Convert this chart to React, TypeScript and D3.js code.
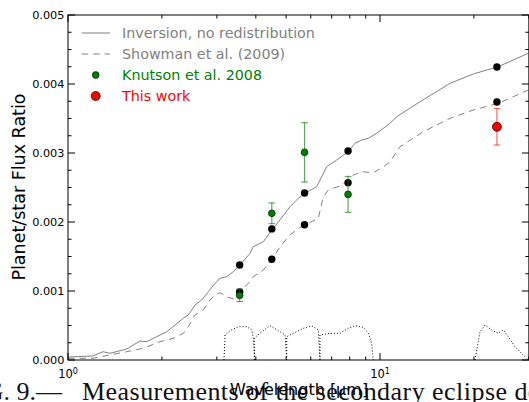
import React from 'react';
import * as d3 from 'd3';

// ---------- data (flux ratios in units of 1e-3) ----------
const solidWl = [1.00, 1.20, 1.295, 1.363, 1.542, 1.701, 1.787, 1.924, 2.072, 2.203, 2.342, 2.430, 2.554, 2.683, 2.817, 2.959, 3.071, 3.227, 3.387, 3.558, 3.831, 3.926, 4.227, 4.518, 4.780, 5.146, 5.471, 5.749, 6.267, 6.751, 7.264, 7.912, 8.317, 8.737, 9.173, 9.759, 10.77, 11.31, 13.44, 16.77, 19.91, 23.94, 29.88];
const solidFlux = [0.043, 0.058, 0.120, 0.097, 0.159, 0.275, 0.265, 0.338, 0.410, 0.507, 0.604, 0.652, 0.797, 0.870, 0.990, 1.112, 1.184, 1.207, 1.280, 1.377, 1.546, 1.642, 1.714, 1.894, 2.029, 2.222, 2.343, 2.416, 2.512, 2.801, 2.899, 3.019, 3.141, 3.188, 3.213, 3.286, 3.430, 3.526, 3.743, 4.010, 4.145, 4.251, 4.445];

const dashedWl = [1.00, 1.20, 1.542, 1.743, 1.972, 2.176, 2.342, 2.430, 2.554, 2.715, 2.852, 2.959, 3.071, 3.227, 3.387, 3.558, 3.692, 3.831, 3.926, 4.227, 4.518, 4.780, 5.146, 5.471, 5.749, 6.341, 6.581, 6.829, 7.442, 7.912, 8.214, 8.737, 9.517, 10.25, 10.77, 11.59, 13.77, 16.77, 19.91, 23.94, 29.88];
const dashedFlux = [0.025, 0.025, 0.120, 0.170, 0.265, 0.314, 0.387, 0.483, 0.652, 0.725, 0.870, 0.942, 0.975, 0.917, 0.884, 0.971, 1.062, 1.135, 1.207, 1.304, 1.459, 1.642, 1.812, 1.909, 1.957, 2.054, 2.367, 2.464, 2.522, 2.609, 2.681, 2.729, 2.714, 2.801, 2.874, 3.091, 3.309, 3.503, 3.623, 3.720, 3.913];

const bandWl = [3.55, 4.5, 5.73, 7.9, 23.7];
const bandSolid = [1.377, 1.90, 2.42, 3.03, 4.246];
const bandDashed = [0.985, 1.46, 1.96, 2.57, 3.74];

const knutsonWl = [3.55, 4.5, 5.73, 7.9];
const knutsonFlux = [0.937, 2.126, 3.01, 2.40];
const knutsonErr = [0.09, 0.15, 0.43, 0.26];

const thisWorkWl = [23.7];
const thisWorkFlux = [3.38];
const thisWorkErr = [0.265];

// filter response curves (scaled)
const filter1Wl = [3.162, 3.187, 3.306, 3.514, 3.740, 3.880, 3.926, 3.976];
const filter1Resp = [0, 0.362, 0.425, 0.483, 0.483, 0.435, 0.314, 0];
const filter2Wl = [3.955, 3.955, 4.124, 4.441, 4.780, 4.962, 5.024];
const filter2Resp = [0, 0.319, 0.387, 0.497, 0.410, 0.362, 0];
const filter3Wl = [5.024, 5.024, 5.274, 5.678, 6.040, 6.341, 6.422];
const filter3Resp = [0, 0.338, 0.387, 0.459, 0.497, 0.435, 0];
const filter4Wl = [6.422, 6.422, 6.914, 7.442, 7.912, 8.317, 8.843, 9.173, 9.406, 9.517];
const filter4Resp = [0, 0.362, 0.387, 0.387, 0.459, 0.497, 0.474, 0.387, 0.242, 0];
const filter5Wl = [20.16, 20.92, 21.71, 22.80, 23.94, 24.84, 25.77, 27.08, 28.79, 29.88];
const filter5Resp = [0, 0.411, 0.507, 0.435, 0.387, 0.435, 0.338, 0.193, 0.072, 0];

const yTicks = [0, 0.001, 0.002, 0.003, 0.004, 0.005];
const xMajorTicks = [1, 10];
const xMajorExp = ['0', '1'];
const xMinorTicks = [2, 3, 4, 5, 6, 7, 8, 9, 20, 30];

const legendLabels = ['Inversion, no redistribution', 'Showman et al. (2009)', 'Knutson et al. 2008', 'This work'];
const xLabel = 'Wavelength [\u03bcm]';
const yLabel = 'Planet/star Flux Ratio';
const captionHead = 'FIG. 9.\u2014';
const captionBody = 'Measurements of the secondary eclipse depth';

// ---------- layout ----------
const W = 529, H = 402;
const L = 68, T = 15, B = 360;
const x = d3.scaleLog().domain([1, 30]).range([L, L + 312 * Math.log10(30)]);
const y = d3.scaleLinear().domain([0, 0.005]).range([B, T]);
const R = x(30);
const font = 'DejaVu Sans, sans-serif';

const zip = (a: number[], b: number[]) => a.map((v, i) => [v, b[i] / 1000] as [number, number]);
const line = d3.line<[number, number]>().x(d => x(d[0])).y(d => y(d[1]));

export default function App() {
  const yMinor = d3.range(0, 21).map(i => i * 0.00025).filter(v => Math.abs(v * 1000 - Math.round(v * 1000)) > 1e-6);
  const filters = [
    zip(filter1Wl, filter1Resp), zip(filter2Wl, filter2Resp), zip(filter3Wl, filter3Resp),
    zip(filter4Wl, filter4Resp), zip(filter5Wl, filter5Resp),
  ];
  const gray = '#808080';
  const green = '#008000';
  return (
    <svg width={W} height={H} style={{ position: 'absolute', left: 0, top: 0, background: '#fff' }} fontFamily={font}>
      <defs>
        <clipPath id="plot"><rect x={L} y={T} width={R - L} height={B - T} /></clipPath>
      </defs>
      {/* caption from paper */}
      <g fontFamily="Liberation Serif, Times New Roman, serif" fontSize={26} fill="#111">
        <text x={62} y={400} textAnchor="end">{captionHead}</text>
        <text x={82} y={400} textLength={492} lengthAdjust="spacing">{captionBody}</text>
      </g>
      <g clipPath="url(#plot)">
        {filters.map((f, i) => (
          <path key={i} d={line(f) || ''} fill="none" stroke="#000" strokeWidth={1} strokeDasharray="1,2" />
        ))}
        <path d={line(zip(solidWl, solidFlux)) || ''} fill="none" stroke={gray} strokeWidth={1} />
        <path d={line(zip(dashedWl, dashedFlux)) || ''} fill="none" stroke={gray} strokeWidth={1} strokeDasharray="6.5,5" />
      </g>
      {/* model band points */}
      {bandWl.map((w, i) => (
        <g key={'b' + i}>
          <circle cx={x(w)} cy={y(bandSolid[i] / 1000)} r={3.7} fill="#000" />
          <circle cx={x(w)} cy={y(bandDashed[i] / 1000)} r={3.7} fill="#000" />
        </g>
      ))}
      {/* Knutson */}
      {knutsonWl.map((w, i) => {
        const cx = x(w);
        const y1 = y((knutsonFlux[i] + knutsonErr[i]) / 1000);
        const y2 = y((knutsonFlux[i] - knutsonErr[i]) / 1000);
        return (
          <g key={'k' + i}>
            <g stroke={green} strokeOpacity={0.65} strokeWidth={1.2}>
              <line x1={cx} x2={cx} y1={y1} y2={y2} />
              <line x1={cx - 3.3} x2={cx + 3.3} y1={y1} y2={y1} />
              <line x1={cx - 3.3} x2={cx + 3.3} y1={y2} y2={y2} />
            </g>
            <circle cx={cx} cy={y(knutsonFlux[i] / 1000)} r={3.4} fill={green} stroke="#000" strokeWidth={0.6} />
          </g>
        );
      })}
      {/* This work */}
      {thisWorkWl.map((w, i) => {
        const cx = x(w);
        const y1 = y((thisWorkFlux[i] + thisWorkErr[i]) / 1000);
        const y2 = y((thisWorkFlux[i] - thisWorkErr[i]) / 1000);
        return (
          <g key={'t' + i}>
            <g stroke="#ff0000" strokeOpacity={0.6} strokeWidth={1.2}>
              <line x1={cx} x2={cx} y1={y1} y2={y2} />
              <line x1={cx - 3.3} x2={cx + 3.3} y1={y1} y2={y1} />
              <line x1={cx - 3.3} x2={cx + 3.3} y1={y2} y2={y2} />
            </g>
            <circle cx={cx} cy={y(thisWorkFlux[i] / 1000)} r={4.5} fill="#ff0000" stroke="#000" strokeWidth={0.7} />
          </g>
        );
      })}
      {/* axes frame */}
      <rect x={L} y={T} width={R - L} height={B - T} fill="none" stroke="#000" strokeWidth={1} />
      {/* y ticks */}
      {yTicks.map(v => (
        <g key={'yt' + v}>
          <line x1={L} x2={L + 7} y1={y(v)} y2={y(v)} stroke="#000" />
          <line x1={R} x2={R - 7} y1={y(v)} y2={y(v)} stroke="#000" />
          <text x={L - 3.5} y={y(v)} dy="0.36em" textAnchor="end" fontSize={11.3} fill="#000">{d3.format('.3f')(v)}</text>
        </g>
      ))}
      {yMinor.map(v => (
        <g key={'ym' + v}>
          <line x1={L} x2={L + 3.5} y1={y(v)} y2={y(v)} stroke="#000" />
          <line x1={R} x2={R - 3.5} y1={y(v)} y2={y(v)} stroke="#000" />
        </g>
      ))}
      {/* x ticks */}
      {xMajorTicks.map((v, i) => (
        <g key={'xt' + v}>
          <line x1={x(v)} x2={x(v)} y1={B} y2={B - 7} stroke="#000" />
          <line x1={x(v)} x2={x(v)} y1={T} y2={T + 7} stroke="#000" />
          <text x={x(v)} y={378} textAnchor="middle" fontSize={11.5} fill="#000">
            10<tspan fontSize={8} dy={-4.5}>{xMajorExp[i]}</tspan>
          </text>
        </g>
      ))}
      {xMinorTicks.map(v => (
        <g key={'xm' + v}>
          <line x1={x(v)} x2={x(v)} y1={B} y2={B - 3.5} stroke="#000" />
          <line x1={x(v)} x2={x(v)} y1={T} y2={T + 3.5} stroke="#000" />
        </g>
      ))}
      {/* labels */}
      <text x={299} y={395} textAnchor="middle" fontSize={16} fill="#000">{xLabel}</text>
      <text transform={`translate(25,187) rotate(-90)`} textAnchor="middle" fontSize={17.5} fill="#000">{yLabel}</text>
      {/* legend */}
      <g fontSize={14.3}>
        <line x1={81.7} x2={110} y1={33} y2={33} stroke={gray} strokeWidth={1} />
        <text x={122} y={38} fill={gray}>{legendLabels[0]}</text>
        <line x1={81.7} x2={110} y1={54} y2={54} stroke={gray} strokeWidth={1} strokeDasharray="6.5,5" />
        <text x={122} y={59} fill={gray}>{legendLabels[1]}</text>
        <circle cx={95.7} cy={75} r={3.4} fill={green} stroke="#000" strokeWidth={0.6} />
        <text x={122} y={80} fill={green}>{legendLabels[2]}</text>
        <circle cx={95.7} cy={96} r={4.5} fill="#ff0000" stroke="#000" strokeWidth={0.7} />
        <text x={122} y={101} fill="#ff0000">{legendLabels[3]}</text>
      </g>
    </svg>
  );
}
